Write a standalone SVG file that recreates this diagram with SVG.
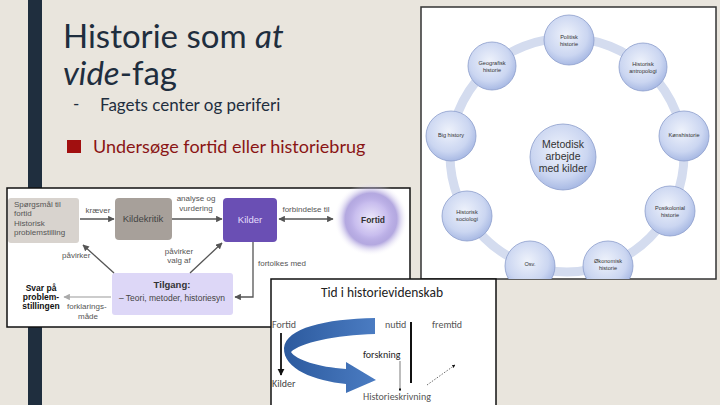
<svg xmlns="http://www.w3.org/2000/svg" width="720" height="405" viewBox="0 0 720 405">
<defs>
<style>
.sm{font-family:"Liberation Sans",Arial,sans-serif;font-size:8px;fill:#555}
.cl{font-family:"Liberation Sans",Arial,sans-serif;font-size:5.6px;fill:#333;text-anchor:middle}
.tl{font-family:Calibri,"Carlito","Liberation Sans",Arial,sans-serif;font-size:10px;fill:#333}
.bub{fill:url(#bubg);stroke:#8c9dcb;stroke-width:0.8}
.arr{stroke:#555;stroke-width:1.3;fill:none}
</style>
<radialGradient id="bubg" cx="0.45" cy="0.4" r="0.6">
<stop offset="0" stop-color="#eef2fb"/>
<stop offset="0.7" stop-color="#cbd6f1"/>
<stop offset="1" stop-color="#a9bae4"/>
</radialGradient>
<radialGradient id="fortg">
<stop offset="0" stop-color="#ece8fa"/>
<stop offset="0.45" stop-color="#c8bdee"/>
<stop offset="0.7" stop-color="#9484d3" stop-opacity="0.7"/>
<stop offset="1" stop-color="#ffffff" stop-opacity="0"/>
</radialGradient>
<linearGradient id="blu" x1="0" y1="0" x2="1" y2="0">
<stop offset="0" stop-color="#2c5a9e"/>
<stop offset="1" stop-color="#4b7cc2"/>
</linearGradient>
<marker id="ah" viewBox="0 0 10 10" refX="9" refY="5" markerWidth="5" markerHeight="5" orient="auto-start-reverse">
<path d="M0,0 L10,5 L0,10 z" fill="#555"/>
</marker>
<marker id="ahl" viewBox="0 0 10 10" refX="9" refY="5" markerWidth="5" markerHeight="5" orient="auto">
<path d="M0,0 L10,5 L0,10 z" fill="#aaa"/>
</marker>
<marker id="ahk" viewBox="0 0 10 10" refX="9" refY="5" markerWidth="4" markerHeight="4" orient="auto">
<path d="M0,0 L10,5 L0,10 z" fill="#111"/>
</marker>
<clipPath id="rclip"><rect x="421" y="7" width="295" height="272"/></clipPath>
</defs>

<rect width="720" height="405" fill="#e9e5dd"/>
<rect x="28" y="0" width="14" height="405" fill="#1f2e3e"/>

<g id="title" font-family="Lato,'Source Sans Pro',sans-serif" fill="#1f2e3e">
<text x="63" y="48" font-size="33">Historie som <tspan font-style="italic">at</tspan></text>
<text x="63" y="85" font-size="33"><tspan font-style="italic">vide</tspan>-fag</text>
<text x="73" y="110" font-size="17">-</text>
<text x="100" y="111" font-size="17">Fagets center og periferi</text>
<rect x="67" y="140" width="14" height="13" fill="#a10f0f"/>
<text x="93" y="153" font-size="18" fill="#8a1515">Undersøge fortid eller historiebrug</text>
</g>

<!-- Left diagram -->
<rect x="7" y="188" width="403" height="139" fill="#fff" stroke="#111" stroke-width="1.5"/>
<g id="fortid">
<circle cx="371" cy="219" r="37" fill="url(#fortg)"/>
<text x="373" y="223" class="sm" font-weight="bold" text-anchor="middle" style="fill:#333;font-size:8.5px">Fortid</text>
</g>
<g id="spoergsmaal">
<rect x="8" y="198" width="71" height="45" rx="3" fill="#d8d3ce"/>
<text class="sm" x="14" y="207">Spørgsmål til</text>
<text class="sm" x="14" y="216">fortid</text>
<text class="sm" x="14" y="226">Historisk</text>
<text class="sm" x="14" y="235">problemstilling</text>
</g>
<g id="kildekritik">
<rect x="115" y="198" width="57" height="42" rx="4" fill="#a7a09a"/>
<text class="sm" x="143" y="222" text-anchor="middle" style="fill:#444;font-size:9.5px">Kildekritik</text>
</g>
<g id="kilder">
<rect x="223" y="198" width="54" height="44" rx="4" fill="#6a4fb4"/>
<text class="sm" x="250" y="223" text-anchor="middle" style="fill:#e4defc;font-size:9.5px">Kilder</text>
</g>
<g id="tilgang">
<rect x="112" y="273" width="121" height="42" rx="3" fill="#ddd7f7"/>
<text class="sm" x="172" y="288" text-anchor="middle" font-weight="bold" style="fill:#333;font-size:9.5px">Tilgang:</text>
<text class="sm" x="172" y="301" text-anchor="middle" style="fill:#444;font-size:8.5px">– Teori, metoder, historiesyn</text>
</g>
<g id="svar">
<text class="sm" x="41" y="291" text-anchor="middle" font-weight="bold" style="fill:#111;font-size:8.5px">Svar på</text>
<text class="sm" x="41" y="300" text-anchor="middle" font-weight="bold" style="fill:#111;font-size:8.5px">problem-</text>
<text class="sm" x="41" y="309" text-anchor="middle" font-weight="bold" style="fill:#111;font-size:8.5px">stillingen</text>
</g>
<g id="left-connectors">
<line class="arr" x1="80" y1="219" x2="114" y2="219" marker-end="url(#ah)"/>
<text class="sm" x="98" y="213" text-anchor="middle">kræver</text>
<line class="arr" x1="172" y1="219" x2="222" y2="219" marker-end="url(#ah)"/>
<text class="sm" x="196" y="201" text-anchor="middle">analyse og</text>
<text class="sm" x="196" y="211" text-anchor="middle">vurdering</text>
<line class="arr" x1="279" y1="219" x2="333" y2="219" marker-start="url(#ah)" marker-end="url(#ah)"/>
<text class="sm" x="306" y="212" text-anchor="middle">forbindelse til</text>
<polyline class="arr" points="253,242 253,297 235,297" marker-end="url(#ah)"/>
<text class="sm" x="258" y="266">fortolkes med</text>
<line class="arr" x1="114" y1="273" x2="83" y2="245" marker-end="url(#ah)"/>
<text class="sm" x="62" y="258">påvirker</text>
<line class="arr" x1="190" y1="273" x2="222" y2="243" marker-end="url(#ah)"/>
<text class="sm" x="179" y="254" text-anchor="middle">påvirker</text>
<text class="sm" x="179" y="263" text-anchor="middle">valg af</text>
<line x1="111" y1="297" x2="64" y2="297" stroke="#bbb" stroke-width="1.3" marker-end="url(#ahl)"/>
<text class="sm" x="67" y="309">forklarings-</text>
<text class="sm" x="78" y="319">måde</text>
</g>

<!-- Right diagram -->
<rect x="421" y="7" width="295" height="272" fill="#fff" stroke="#333" stroke-width="1.5"/>
<g clip-path="url(#rclip)">
<g id="ring-connectors">
<circle cx="567" cy="155" r="117" fill="none" stroke="#d4dcef" stroke-width="9"/>
</g>
<g id="politisk"><circle class="bub" cx="569" cy="40" r="25"/><text class="cl" x="569" y="39">Politisk</text><text class="cl" x="569" y="46">historie</text></g>
<g id="geografisk"><circle class="bub" cx="492" cy="66" r="24"/><text class="cl" x="492" y="65">Geografisk</text><text class="cl" x="492" y="72">historie</text></g>
<g id="antropologi"><circle class="bub" cx="643" cy="67" r="24"/><text class="cl" x="643" y="66">Historisk</text><text class="cl" x="643" y="73">antropologi</text></g>
<g id="bighistory"><circle class="bub" cx="451" cy="136" r="25"/><text class="cl" x="451" y="137">Big history</text></g>
<g id="koenshistorie"><circle class="bub" cx="684" cy="136" r="25"/><text class="cl" x="684" y="137">Kønshistorie</text></g>
<g id="sociologi"><circle class="bub" cx="467" cy="216" r="25"/><text class="cl" x="467" y="214">Historisk</text><text class="cl" x="467" y="221">sociologi</text></g>
<g id="postkolonial"><circle class="bub" cx="670" cy="211" r="25"/><text class="cl" x="670" y="210">Postkolonial</text><text class="cl" x="670" y="217">historie</text></g>
<g id="osv"><circle class="bub" cx="530" cy="266" r="25"/><text class="cl" x="530" y="266">Osv.</text></g>
<g id="oekonomisk"><circle class="bub" cx="608" cy="266" r="25"/><text class="cl" x="608" y="263">Økonomisk</text><text class="cl" x="608" y="270">historie</text></g>
<g id="metodisk"><circle class="bub" cx="563" cy="157" r="33"/>
<text class="cl" x="563" y="148" style="font-size:10.5px">Metodisk</text>
<text class="cl" x="563" y="160" style="font-size:10.5px">arbejde</text>
<text class="cl" x="563" y="172" style="font-size:10.5px">med kilder</text></g>
</g>

<!-- Bottom panel -->
<rect x="271" y="279" width="225" height="130" fill="#fff" stroke="#111" stroke-width="1.5"/>
<g id="tid">
<text class="tl" x="382" y="297" text-anchor="middle" style="font-size:13.5px;fill:#222">Tid i historievidenskab</text>
<text class="tl" x="272" y="328" style="fill:#555">Fortid</text>
<text class="tl" x="385" y="328" style="fill:#555">nutid</text>
<text class="tl" x="432" y="328" style="fill:#555">fremtid</text>
<text class="tl" x="272" y="387" style="fill:#444">Kilder</text>
<text class="tl" x="363" y="358" style="fill:#222">forskning</text>
<text class="tl" x="363" y="400" style="fill:#555">Historieskrivning</text>
</g>
<g id="tid-connectors">
<path d="M375,318 C325,319 286,328 284,348 C283,369 315,381 346,384 L346,393 L376,380 L346,362 L346,369 C318,367 296,360 291,352 C300,343 335,335 375,334 Z" fill="url(#blu)"/>
<line x1="411" y1="322" x2="411" y2="383" stroke="#111" stroke-width="2"/>
<line x1="281" y1="333" x2="281" y2="375" stroke="#111" stroke-width="1.8" marker-end="url(#ahk)"/>
<line x1="400" y1="361" x2="400" y2="391" stroke="#444" stroke-width="0.7" marker-end="url(#ahk)"/>
<line x1="427" y1="385" x2="455" y2="365" stroke="#444" stroke-width="0.8" stroke-dasharray="1.5,1.5" marker-end="url(#ahk)"/>
</g>
</svg>
